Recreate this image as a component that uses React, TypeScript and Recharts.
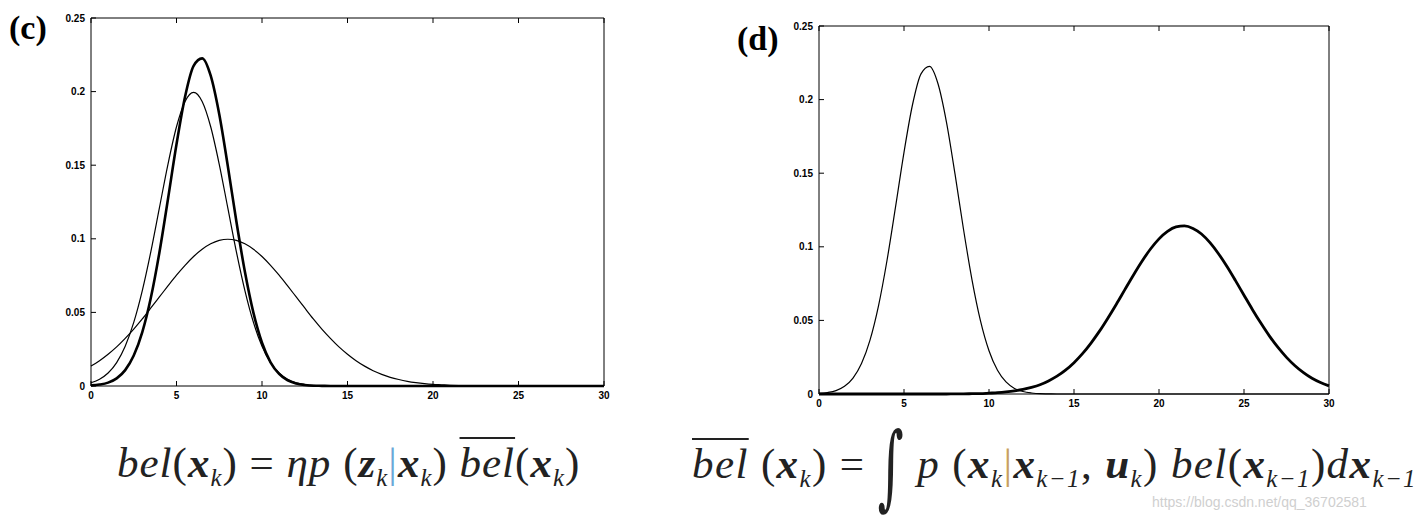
import { LineChart, Line, XAxis, YAxis } from 'recharts';

// sample grid (x) shared by every curve
const xs = [
  0, 0.5, 1, 1.5, 2, 2.5, 3, 3.5, 4, 4.5, 5, 5.5, 6, 6.5, 7, 7.5, 8, 8.5, 9, 9.5, 10,
  10.5, 11, 11.5, 12, 12.5, 13, 13.5, 14, 14.5, 15, 15.5, 16, 16.5, 17, 17.5, 18, 18.5, 19, 19.5, 20,
  20.5, 21, 21.5, 22, 22.5, 23, 23.5, 24, 24.5, 25, 25.5, 26, 26.5, 27, 27.5, 28, 28.5, 29, 29.5, 30,
];

// (c) wide curve, peak ~0.1 at 8
const measurementC = [
  0.0135, 0.0172, 0.0216, 0.0266, 0.0324, 0.0387, 0.0456, 0.053, 0.0605, 0.068, 0.0753, 0.082, 0.088, 0.0929, 0.0966, 0.0989, 0.0997,
  0.0989, 0.0966, 0.0929, 0.088, 0.082, 0.0753, 0.068, 0.0605, 0.053, 0.0456, 0.0387, 0.0324, 0.0266, 0.0216, 0.0172, 0.0135,
  0.0104, 0.0079, 0.0059, 0.0044, 0.0032, 0.0023, 0.0016, 0.0011, 0.0008, 0.0005, 0.0003, 0.0002, 0.0001, 0.0001, 0.0001,
  0, 0, 0, 0, 0, 0, 0, 0, 0, 0, 0, 0, 0,
];

// (c) thin curve, peak ~0.2 at 6
const priorC = [
  0.0022, 0.0046, 0.0088, 0.0159, 0.027, 0.0432, 0.0648, 0.0913, 0.121, 0.1506, 0.1761, 0.1933, 0.1995, 0.1933, 0.1761, 0.1506,
  0.121, 0.0913, 0.0648, 0.0432, 0.027, 0.0159, 0.0088, 0.0046, 0.0022, 0.001, 0.0004, 0.0002, 0.0001,
  0, 0, 0, 0, 0, 0, 0, 0, 0, 0, 0, 0, 0, 0, 0, 0, 0, 0, 0, 0, 0, 0, 0, 0, 0, 0, 0, 0, 0, 0, 0, 0,
];

// thick curve in (c), thin curve in (d), peak ~0.223 at 6.4
const posteriorC = [
  0.0004, 0.001, 0.0023, 0.0052, 0.0108, 0.0207, 0.0366, 0.0599, 0.0907, 0.1269, 0.1642, 0.1965, 0.2175, 0.2226, 0.2108, 0.1846,
  0.1495, 0.1119, 0.0776, 0.0497, 0.0294, 0.0161, 0.0082, 0.0038, 0.0017, 0.0007, 0.0002, 0.0001, 0,
  0, 0, 0, 0, 0, 0, 0, 0, 0, 0, 0, 0, 0, 0, 0, 0, 0, 0, 0, 0, 0, 0, 0, 0, 0, 0, 0, 0, 0, 0, 0, 0,
];

// (d) thick curve, peak ~0.114 at 21.4
const predictedD = [
  0, 0, 0, 0, 0, 0, 0, 0, 0, 0, 0, 0, 0, 0, 0, 0,
  0.0001, 0.0001, 0.0002, 0.0003, 0.0006, 0.0009, 0.0014, 0.0021, 0.0031, 0.0045, 0.0063, 0.0089, 0.0121, 0.0162, 0.0213,
  0.0274, 0.0346, 0.0427, 0.0517, 0.0612, 0.0711, 0.0809, 0.0902, 0.0985, 0.1054, 0.1105, 0.1135, 0.1142, 0.1125, 0.1087,
  0.1028, 0.0953, 0.0866, 0.077, 0.0671, 0.0573, 0.048, 0.0393, 0.0316, 0.0249, 0.0192, 0.0145, 0.0107, 0.0078, 0.0055,
];

const xTicks = [0, 5, 10, 15, 20, 25, 30];
const yTicks = [0, 0.05, 0.1, 0.15, 0.2, 0.25];

const rowsC = xs.map((x, i) => ({ x, measurement: measurementC[i], prior: priorC[i], posterior: posteriorC[i] }));
const rowsD = xs.map((x, i) => ({ x, posterior: posteriorC[i], predicted: predictedD[i] }));

const INK = '#000';
const TICK = 5;
const GAP = 6;
const tickFont = { fontFamily: '"Liberation Sans", Arial, sans-serif', fontSize: 10, fontWeight: 700 };

function BottomTick({ x, y, payload }: any) {
  return (
    <g>
      <line x1={x} x2={x} y1={y - GAP} y2={y - GAP - TICK} stroke={INK} />
      <text x={x} y={y} dy="0.71em" textAnchor="middle" fill={INK} style={tickFont}>{payload.value}</text>
    </g>
  );
}

function LeftTick({ x, y, payload }: any) {
  return (
    <g>
      <line x1={x + GAP} x2={x + GAP + TICK} y1={y} y2={y} stroke={INK} />
      <text x={x} y={y} dy="0.355em" textAnchor="end" fill={INK} style={tickFont}>{payload.value}</text>
    </g>
  );
}

// mirrored axes: tick props land on the axis line itself (size 0, margin 0)
function TopTick({ x, y }: any) {
  return <line x1={x} x2={x} y1={y} y2={y + TICK} stroke={INK} />;
}

function RightTick({ x, y }: any) {
  return <line x1={x} x2={x - TICK} y1={y} y2={y} stroke={INK} />;
}

type Series = { key: string; width: number };

function Panel({ data, series, width, height, margin, yWidth }: any) {
  return (
    <LineChart width={width} height={height} data={data} margin={margin}>
      <XAxis dataKey="x" type="number" domain={[0, 30]} ticks={xTicks} interval={0} height={24}
        tickSize={0} tickMargin={GAP} tickLine={false} axisLine={{ stroke: INK }} tick={BottomTick} />
      <XAxis xAxisId="top" dataKey="x" orientation="top" type="number" domain={[0, 30]} ticks={xTicks} interval={0} height={1}
        tickSize={0} tickMargin={0} tickLine={false} axisLine={{ stroke: INK }} tick={TopTick} />
      <YAxis type="number" domain={[0, 0.25]} ticks={yTicks} interval={0} width={yWidth}
        tickSize={0} tickMargin={GAP} tickLine={false} axisLine={{ stroke: INK }} tick={LeftTick} />
      <YAxis yAxisId="right" orientation="right" type="number" domain={[0, 0.25]} ticks={yTicks} interval={0} width={1}
        tickSize={0} tickMargin={0} tickLine={false} axisLine={{ stroke: INK }} tick={RightTick} />
      {series.map((s: Series) => (
        <Line key={s.key} dataKey={s.key} type="monotone" stroke={INK} strokeWidth={s.width}
          dot={false} activeDot={false} isAnimationActive={false} />
      ))}
    </LineChart>
  );
}

const mathFont: any = {
  fontFamily: '"Liberation Serif", "DejaVu Serif", serif',
  fontSize: 43,
  letterSpacing: 1,
  color: '#222',
  whiteSpace: 'nowrap',
  position: 'absolute',
};

const V = ({ c }: any) => <b style={{ fontStyle: 'italic' }}>{c}</b>;
const Sub = ({ children }: any) => (
  <span style={{ fontSize: '0.58em', fontStyle: 'italic', verticalAlign: '-0.35em' }}>{children}</span>
);
const Bel = ({ bar }: any) => (
  <i style={bar ? { textDecoration: 'overline', textDecorationThickness: 2 } : undefined}>bel</i>
);

export default function App() {
  return (
    <div style={{ position: 'absolute', left: 0, top: 0, width: 1420, height: 520, background: '#fff', overflow: 'hidden' }}>
      <div style={{ position: 'absolute', left: 0, top: 0 }}>
        <Panel
          data={rowsC}
          width={620}
          height={410}
          margin={{ top: 17, right: 15, bottom: 0, left: 0 }}
          yWidth={91}
          series={[
            { key: 'measurement', width: 1.2 },
            { key: 'prior', width: 1.2 },
            { key: 'posterior', width: 2.6 },
          ]}
        />
      </div>
      <div style={{ position: 'absolute', left: 720, top: 0 }}>
        <Panel
          data={rowsD}
          width={620}
          height={418}
          margin={{ top: 25, right: 10, bottom: 0, left: 0 }}
          yWidth={99}
          series={[
            { key: 'posterior', width: 1.2 },
            { key: 'predicted', width: 2.8 },
          ]}
        />
      </div>

      <div style={{ position: 'absolute', left: 9, top: 11, fontFamily: '"Liberation Serif", serif', fontWeight: 700, fontSize: 34, lineHeight: 1 }}>(c)</div>
      <div style={{ position: 'absolute', left: 737, top: 22, fontFamily: '"Liberation Serif", serif', fontWeight: 700, fontSize: 34, lineHeight: 1 }}>(d)</div>

      <div style={{ ...mathFont, left: 117, top: 438 }}>
        <Bel />(<V c="x" /><Sub>k</Sub>) = <i>ηp</i> (<V c="z" /><Sub>k</Sub><span style={{ color: '#6aa8d8' }}>|</span><V c="x" /><Sub>k</Sub>) <Bel bar />(<V c="x" /><Sub>k</Sub>)
      </div>
      <div style={{ ...mathFont, left: 692, top: 438, letterSpacing: 1.4 }}>
        <Bel bar /> (<V c="x" /><Sub>k</Sub>) ={' '}
        <span style={{ display: 'inline-block', fontFamily: '"DejaVu Serif", serif', fontSize: 50, transform: 'scaleY(1.85)', verticalAlign: '-0.12em' }}>∫</span>{' '}
        <i>p</i> (<V c="x" /><Sub>k</Sub><span style={{ color: '#c8a060' }}>|</span><V c="x" /><Sub>k−1</Sub>, <V c="u" /><Sub>k</Sub>) <Bel />(<V c="x" /><Sub>k−1</Sub>)<i>d</i><V c="x" /><Sub>k−1</Sub>
      </div>

      <div style={{ position: 'absolute', left: 1152, top: 494, fontFamily: '"Liberation Sans", Arial, sans-serif', fontSize: 14, color: '#cfcfcf' }}>
        https://blog.csdn.net/qq_36702581
      </div>
    </div>
  );
}
